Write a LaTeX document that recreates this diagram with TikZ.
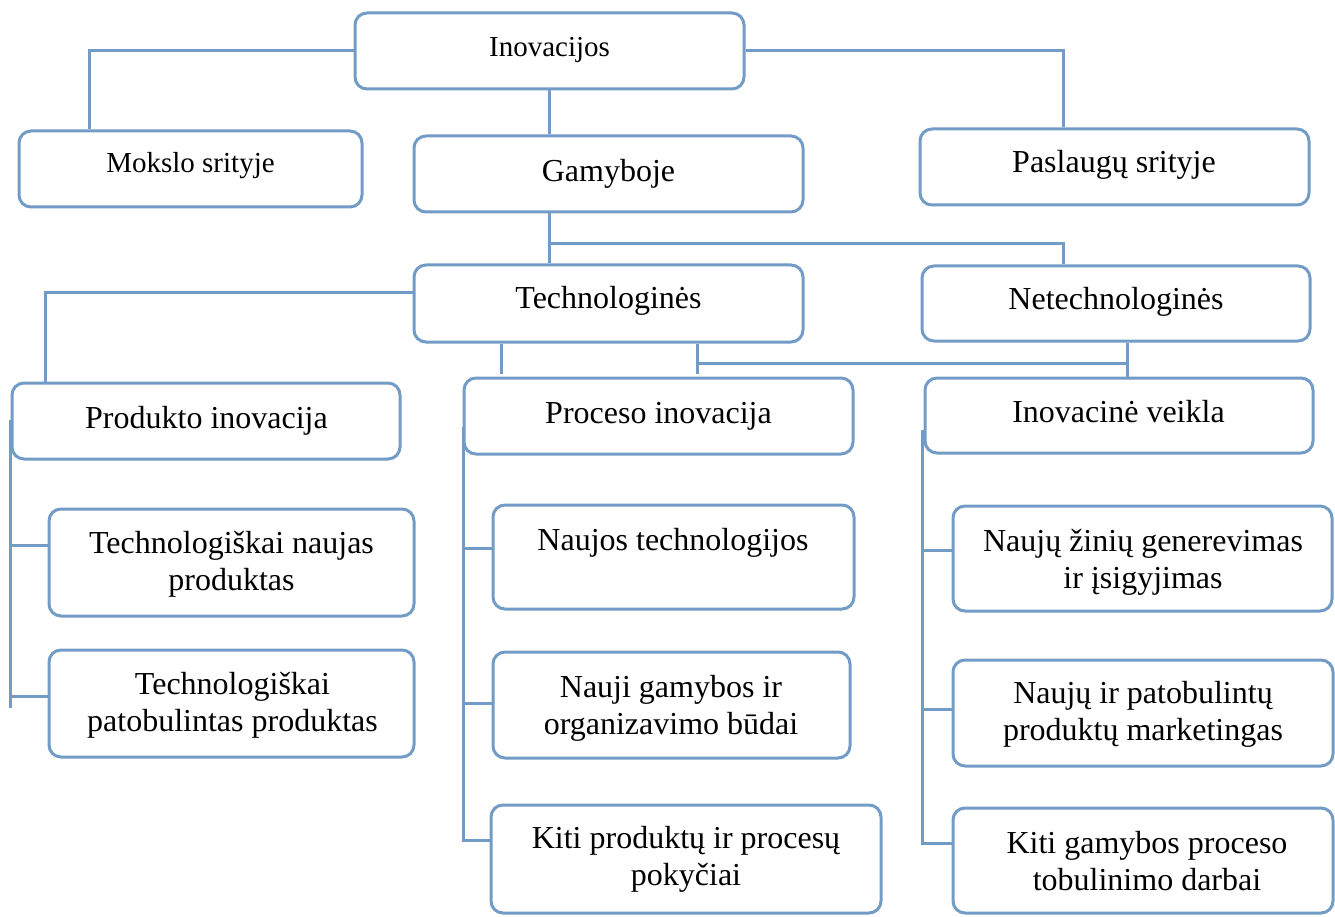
\documentclass[tikz,border=0pt]{standalone}
\usepackage{fontspec}
\setmainfont{Liberation Serif}
\usetikzlibrary{calc}
\definecolor{lineblue}{RGB}{114,155,198}
\newcommand\twoln[2]{\begin{tabular}[t]{@{}c@{}}#1\\#2\end{tabular}}
\begin{document}
\begin{tikzpicture}[x=1pt,y=-1pt,
  box/.style={draw=lineblue,line width=3pt,rounded corners=12pt,inner sep=0pt},
  txt/.style={anchor=base,inner sep=0pt,font=\fontsize{32}{37}\selectfont},
  txts/.style={anchor=base,inner sep=0pt,font=\fontsize{29}{34}\selectfont},
  conn/.style={draw=lineblue,line width=3pt}]
\useasboundingbox (0,0) rectangle (1335,917);

% boxes
\node[box,minimum width=389pt,minimum height=76pt] (inov)   at (549.5,51)  {};
\node[box,minimum width=343pt,minimum height=76pt] (moks)   at (190.5,169) {};
\node[box,minimum width=389pt,minimum height=76pt] (gam)    at (608.5,174) {};
\node[box,minimum width=389pt,minimum height=76pt] (pasl)   at (1114.5,167) {};
\node[box,minimum width=389pt,minimum height=77pt] (tech)   at (608.5,303.5) {};
\node[box,minimum width=388pt,minimum height=75pt] (netech) at (1116,303.5) {};
\node[box,minimum width=388pt,minimum height=76pt] (prod)   at (206,421) {};
\node[box,minimum width=389pt,minimum height=76pt] (proc)   at (658.5,416) {};
\node[box,minimum width=388pt,minimum height=75pt] (inovv)  at (1119,415.5) {};
\node[box,minimum width=365pt,minimum height=107pt] (tnaujas) at (231.5,562.5) {};
\node[box,minimum width=365pt,minimum height=107pt] (tpatob)  at (231.5,703.5) {};
\node[box,minimum width=361pt,minimum height=104pt] (ntech)   at (673.5,557) {};
\node[box,minimum width=357pt,minimum height=106pt] (ngam)    at (671.5,705) {};
\node[box,minimum width=390pt,minimum height=108pt] (kitip)   at (686,859) {};
\node[box,minimum width=379pt,minimum height=105pt] (nzin)    at (1142.5,558.5) {};
\node[box,minimum width=380pt,minimum height=106pt] (npat)    at (1143,713) {};
\node[box,minimum width=380pt,minimum height=105pt] (kitig)   at (1143,860.5) {};

% labels
\node[txts] (inovT)   at (549.5,57)  {Inovacijos};
\node[txts] (moksT)   at (190.5,173) {Mokslo srityje};
\node[txt]  (gamT)    at (608.5,182) {Gamyboje};
\node[txt]  (paslT)   at (1114,173)  {Paslaugų srityje};
\node[txt]  (techT)   at (608.5,308) {Technologinės};
\node[txt]  (netechT) at (1116,309)  {Netechnologinės};
\node[txt]  (prodT)   at (206.5,428) {Produkto inovacija};
\node[txt]  (procT)   at (658.5,423) {Proceso inovacija};
\node[txt]  (inovvT)  at (1118.5,422) {Inovacinė veikla};
\node[txt]  (tnaujasT) at (231.5,553) {\twoln{Technologiškai naujas}{produktas}};
\node[txt]  (tpatobT)  at (232.5,694) {\twoln{Technologiškai}{patobulintas produktas}};
\node[txt]  (ntechT)   at (673,550)   {Naujos technologijos};
\node[txt]  (ngamT)    at (671,697)   {\twoln{Nauji gamybos ir}{organizavimo būdai}};
\node[txt]  (kitipT)   at (686,848)   {\twoln{Kiti produktų ir procesų}{pokyčiai}};
\node[txt]  (nzinT)    at (1143,551)  {\twoln{Naujų žinių generevimas}{ir įsigyjimas}};
\node[txt]  (npatT)    at (1143,703)  {\twoln{Naujų ir patobulintų}{produktų marketingas}};
\node[txt]  (kitigT)   at (1147,853)  {\twoln{Kiti gamybos proceso}{tobulinimo darbai}};

% top level connectors
\draw[conn] (inov.west) -| ([xshift=72pt]moks.north west);
\draw[conn] (inov.east) -| ([xshift=145pt]pasl.north west);
\draw[conn] (inov.south) -- (inov.south |- gam.north);
\draw[conn] (inov.south |- gam.south) -- (inov.south |- tech.north);
\coordinate (trunk) at (inov.south |- 0,244);
\draw[conn] (trunk) -| ([xshift=143pt]netech.north west);

% second level connectors
\draw[conn] ([yshift=11.5pt]tech.west) -| ([xshift=35pt]prod.north west);
\coordinate (stubA) at ([xshift=89pt]tech.south west);
\draw[conn] (stubA) -- ++(0,30);
\coordinate (stubB) at ([xshift=285pt]tech.south west);
\draw[conn] (stubB) -- ++(0,30);
\coordinate (netdrop) at ([xshift=207pt]netech.south west);
\draw[conn] (netdrop) -- (netdrop |- inovv.north);
\draw[conn] ($(stubB)+(0,20)$) -- ($(netdrop |- stubB)+(0,20)$);

% product column
\coordinate (pb1) at ([yshift=17.5pt]tnaujas.west);
\coordinate (pb2) at ([yshift=7.5pt]tpatob.west);
\draw[conn] ([yshift=1pt]prod.west) -- ($(prod.west |- pb2)+(0,12)$);
\draw[conn] (pb1) -- (pb1 -| prod.west);
\draw[conn] (pb2) -- (pb2 -| prod.west);

% process column
\coordinate (mb1) at ([yshift=9pt]ntech.west);
\coordinate (mb2) at ([yshift=2pt]ngam.west);
\coordinate (mb3) at ([yshift=19pt]kitip.west);
\draw[conn] ([xshift=1pt,yshift=-11pt]proc.west) -- ($(proc.west |- mb3)+(1,2)$);
\draw[conn] (mb1) -- ($(mb1 -| proc.west)+(1,0)$);
\draw[conn] (mb2) -- ($(mb2 -| proc.west)+(1,0)$);
\draw[conn] (mb3) -- ($(mb3 -| proc.west)+(1,0)$);

% activity column
\coordinate (rb1) at ([yshift=8.5pt]nzin.west);
\coordinate (rb2) at ([yshift=4pt]npat.west);
\coordinate (rb3) at ([yshift=17.5pt]kitig.west);
\draw[conn] ([xshift=-1pt,yshift=-14.5pt]inovv.west) -- ($(inovv.west |- rb3)+(-1,1.5)$);
\draw[conn] (rb1) -- ($(rb1 -| inovv.west)+(-1,0)$);
\draw[conn] (rb2) -- ($(rb2 -| inovv.west)+(-1,0)$);
\draw[conn] (rb3) -- ($(rb3 -| inovv.west)+(-1,0)$);
\end{tikzpicture}
\end{document}
